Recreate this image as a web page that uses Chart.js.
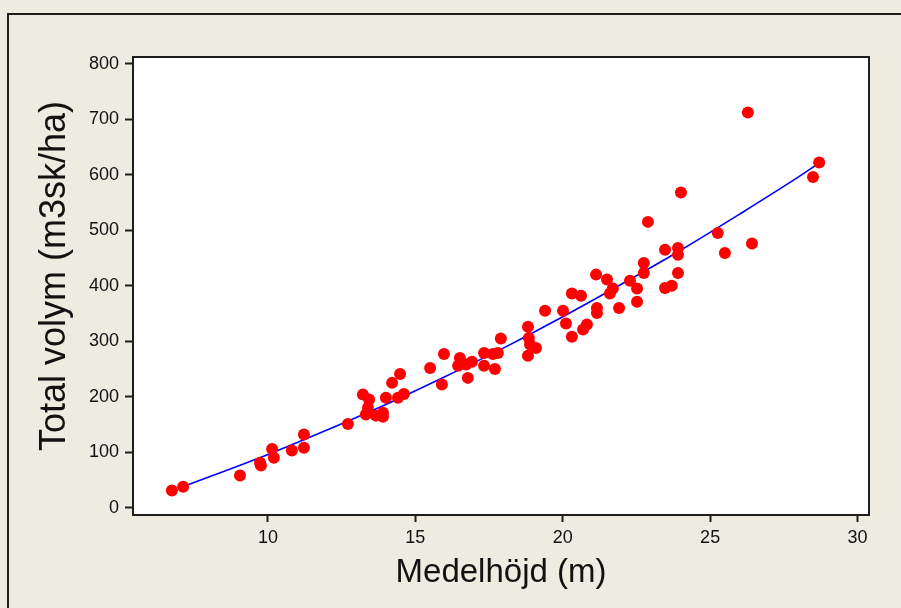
<!DOCTYPE html>
<html>
<head>
<meta charset="utf-8">
<script src="https://cdn.jsdelivr.net/npm/chart.js@4/dist/chart.umd.min.js"></script>
<style>
  html, body { margin: 0; padding: 0; background: #eeebe1; }
  #wrap { width: 901px; height: 608px; }
</style>
</head>
<body>
<div id="wrap"><canvas id="heightVolumeChart" width="901" height="608"></canvas></div>
<script>
// mean height (m) of each stand
var medelhojd = [6.74, 7.12, 9.05, 9.73, 9.76, 10.14, 10.20, 10.81, 11.22, 11.22,
    12.71, 13.22, 13.43, 13.39, 13.32, 13.66, 13.90, 13.90, 14.00, 14.21,
    14.48, 14.41, 14.61, 15.50, 15.90, 15.97, 16.51, 16.45, 16.72, 16.92,
    16.78, 17.33, 17.33, 17.63, 17.80, 17.70, 17.90, 18.82, 18.85, 18.89,
    19.09, 18.82, 19.40, 20.01, 20.11, 20.31, 20.69, 20.82, 20.31, 20.62,
    21.13, 21.16, 21.16, 21.50, 21.70, 21.60, 21.91, 22.28, 22.52, 22.52,
    22.75, 22.75, 22.89, 23.47, 23.91, 23.91, 23.91, 23.47, 23.70, 24.01,
    25.26, 25.50, 26.42, 26.28, 28.49, 28.70];
// total volume (m3sk/ha)
var totalVolym = [31, 38, 58, 81, 76, 106, 90, 103, 132, 108,
    151, 204, 195, 180, 168, 166, 171, 164, 198, 225,
    241, 198, 205, 252, 222, 277, 270, 256, 258, 263,
    234, 279, 256, 277, 279, 250, 305, 326, 306, 294,
    288, 274, 355, 355, 332, 308, 321, 330, 386, 382,
    420, 360, 351, 411, 395, 386, 360, 409, 395, 371,
    441, 423, 515, 465, 468, 456, 423, 396, 400, 568,
    495, 459, 476, 712, 596, 622];
// fitted curve
var kurvaX = [7.12, 10, 12, 14, 16, 18, 20, 22, 24, 26, 28, 28.7];
var kurvaY = [38, 96, 140, 186, 236, 288, 344, 403, 464, 529, 596, 621];
// tick labels
var xTicks = [10, 15, 20, 25, 30];
var yTicks = [0, 100, 200, 300, 400, 500, 600, 700, 800];

var inkColor = "#1e1e1e";

var framePlugin = {
    id: "frame",
    beforeDraw: function (chart) {
        var ctx = chart.ctx, a = chart.chartArea;
        ctx.save();
        ctx.fillStyle = "#eeebe1";
        ctx.fillRect(0, 0, chart.width, chart.height);
        ctx.strokeStyle = inkColor;
        ctx.lineWidth = 2;
        ctx.strokeRect(8, 14, chart.width + 10, chart.height + 10);
        ctx.fillStyle = "#ffffff";
        ctx.fillRect(a.left, a.top, a.right - a.left, a.bottom - a.top);
        ctx.restore();
    },
    afterDraw: function (chart) {
        var ctx = chart.ctx, a = chart.chartArea;
        ctx.save();
        ctx.strokeStyle = inkColor;
        ctx.lineWidth = 2;
        ctx.strokeRect(a.left, a.top, a.right - a.left, a.bottom - a.top);
        ctx.restore();
    }
};

var points = medelhojd.map(function (x, i) { return { x: x, y: totalVolym[i] }; });
var curve = kurvaX.map(function (x, i) { return { x: x, y: kurvaY[i] }; });

var chart = new Chart(document.getElementById("heightVolumeChart"), {
    type: "scatter",
    data: {
        datasets: [
            {
                label: "Kurva",
                type: "line",
                data: curve,
                borderColor: "#0000ff",
                borderWidth: 1.6,
                pointRadius: 0,
                fill: false,
                cubicInterpolationMode: "monotone",
                order: 2
            },
            {
                label: "Total volym",
                data: points,
                backgroundColor: "#ff0000",
                borderWidth: 0,
                pointRadius: 6,
                pointHoverRadius: 6,
                order: 1
            }
        ]
    },
    options: {
        responsive: false,
        animation: false,
        devicePixelRatio: 1,
        layout: { padding: { top: 57, right: 32, left: 0, bottom: 0 } },
        plugins: { legend: { display: false }, tooltip: { enabled: false } },
        scales: {
            x: {
                type: "linear",
                min: 5.42,
                max: 30.39,
                afterBuildTicks: function (s) { s.ticks = xTicks.map(function (v) { return { value: v }; }); },
                afterFit: function (s) { s.height = 93; },
                grid: { drawOnChartArea: false, drawTicks: true, tickLength: 7, tickWidth: 2, tickColor: inkColor },
                border: { display: false },
                ticks: { color: "#111", padding: 5, maxRotation: 0, font: { family: "Liberation Sans", size: 18 } },
                title: {
                    display: true,
                    text: "Medelhöjd (m)",
                    color: "#111",
                    padding: { top: 0, bottom: 15 },
                    font: { family: "Liberation Sans", size: 33 }
                }
            },
            y: {
                type: "linear",
                min: -13,
                max: 812,
                afterBuildTicks: function (s) { s.ticks = yTicks.map(function (v) { return { value: v }; }); },
                afterFit: function (s) { s.width = 133; },
                grid: { drawOnChartArea: false, drawTicks: true, tickLength: 8, tickWidth: 2, tickColor: inkColor },
                border: { display: false },
                ticks: { color: "#111", padding: 6, font: { family: "Liberation Sans", size: 18 } },
                title: {
                    display: true,
                    text: "  Total volym (m3sk/ha)",
                    color: "#111",
                    padding: { top: 33, bottom: 0 },
                    font: { family: "Liberation Sans", size: 36 }
                }
            }
        }
    },
    plugins: [framePlugin]
});
</script>
</body>
</html>
